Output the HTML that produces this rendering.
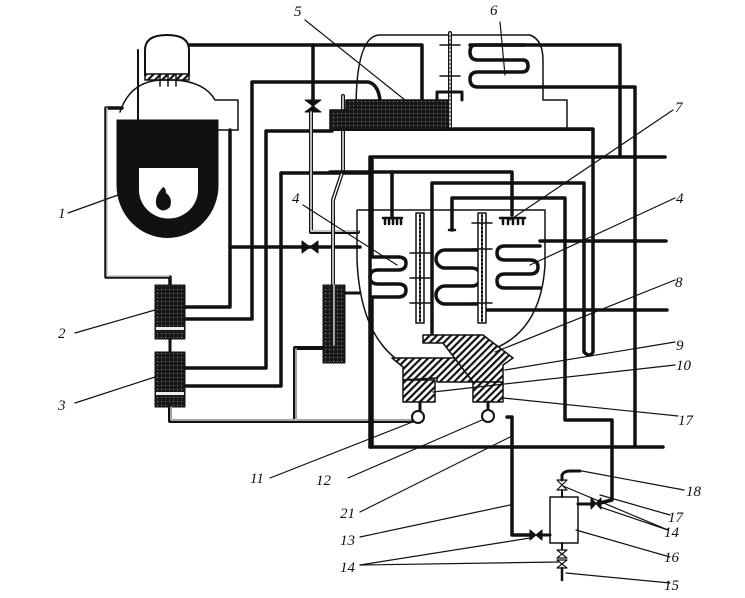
<!DOCTYPE html>
<html><head><meta charset="utf-8"><style>
html,body{margin:0;padding:0;background:#fff}
svg{display:block}
text{font-family:"Liberation Serif",serif;font-style:italic;font-size:15px;fill:#111}
</style></head><body>
<svg width="745" height="598" viewBox="0 0 745 598" xmlns="http://www.w3.org/2000/svg">
<defs>
<pattern id="h" width="5" height="5" patternUnits="userSpaceOnUse" patternTransform="rotate(45)">
<rect width="5" height="5" fill="#fff"/><rect width="2.2" height="5" fill="#111"/></pattern>
<pattern id="d" width="4" height="4" patternUnits="userSpaceOnUse">
<rect width="4" height="4" fill="#1a1a1a"/><rect x="1" y="1" width="1" height="1" fill="#888"/></pattern>
</defs>
<g fill="none" stroke="#111" stroke-linecap="round" stroke-linejoin="round">
<path d="M145,75 L145,50 Q145,35 167,35 Q189,35 189,50 L189,75" stroke-width="2"/>
<rect x="145" y="74" width="44" height="6" fill="url(#h)" stroke-width="1.5"/>
<path d="M120,112 Q130,82 160,80 L175,80 Q205,82 215,100 L238,100 L238,130 L218,130" stroke-width="1.5"/>
<path d="M117,120 L218,120 L218,185 A50,52 0 0 1 117,185 Z" fill="#111" stroke-width="1"/>
<path d="M139,168 L198,168 L198,190 A29,28 0 0 1 139,190 Z" fill="#fff" stroke="none"/>
<path d="M163,187 Q153,198 157,207 Q163,214 170,207 Q173,198 166,193 Q166,188 163,187Z" fill="#111" stroke="none"/>
<line x1="138" y1="50" x2="138" y2="168" stroke-width="2"/>
<line x1="160" y1="74" x2="160" y2="86" stroke-width="1.5"/><line x1="168" y1="74" x2="168" y2="86" stroke-width="1.5"/><line x1="176" y1="74" x2="176" y2="86" stroke-width="1.5"/>
<path d="M122,108 L106,108 L106,277 L170,277 L170,285" stroke-width="3.5"/>
<path d="M107,108 L107,276 L169,276" stroke="#fff" stroke-width="1.2"/>
<rect x="155" y="285" width="30" height="54" fill="url(#d)" stroke-width="1"/>
<rect x="156" y="327" width="28" height="3" fill="#eee" stroke="none"/>
<rect x="155" y="352" width="30" height="55" fill="url(#d)" stroke-width="1"/>
<rect x="156" y="392" width="28" height="3" fill="#eee" stroke="none"/>
<line x1="170" y1="339" x2="170" y2="352" stroke-width="3"/>
<g stroke-width="3.5">
<path d="M230,130 L230,307 L185,307"/>
<path d="M185,319 L252,319 L252,82 L368,82 Q378,84 380,100"/>
<path d="M185,368 L266,368 L266,131 L332,131"/>
<path d="M185,386 L281,386 L281,173 L370,173"/>
<path d="M230,247 L360,247"/>
<path d="M189,45 L422,45 L422,100"/>
<line x1="313" y1="45" x2="313" y2="105"/>
</g>
<path d="M305,100 L321,100 L305,112 L321,112 Z" fill="#111" stroke-width="1"/>
<path d="M302,241 L302,253 L318,241 L318,253 Z" fill="#111" stroke-width="1"/>
<path d="M311,112 L311,232 L358,232" stroke-width="4"/>
<path d="M311,112 L311,231 L358,231" stroke="#fff" stroke-width="1.4"/>
<path d="M343,96 L343,170 L333,200 L333,285" stroke-width="4"/>
<path d="M343,96 L343,170 L333,200 L333,285" stroke="#fff" stroke-width="1.4"/>
<rect x="323" y="285" width="22" height="78" fill="url(#d)" stroke-width="1"/>
<line x1="334" y1="285" x2="334" y2="345" stroke="#ccc" stroke-width="1.5"/>
<path d="M345,293 L360,293" stroke-width="3"/>
<path d="M323,348 L295,348 L295,421" stroke-width="4"/>
<path d="M170,407 L170,421 L412,421" stroke-width="4"/>
<path d="M171,407 L171,420 L411,420 M296,349 L296,420" stroke="#fff" stroke-width="1.2"/>
<path d="M330,130 L330,110 L346,110 L346,100 L448,100 L448,130 Z" fill="url(#d)" stroke-width="1.5"/>
<path d="M330,130 L592,130" stroke-width="2"/>
<path d="M356,110 Q356,35 380,35 L530,35 Q543,40 543,60 L543,100 L567,100 L567,128" stroke-width="1.5"/>
<line x1="450" y1="33" x2="450" y2="128" stroke-width="4"/>
<line x1="450" y1="33" x2="450" y2="128" stroke="#fff" stroke-width="1.5" stroke-dasharray="2,2"/>
<line x1="440" y1="45" x2="460" y2="45" stroke-width="1.5"/><line x1="440" y1="76" x2="460" y2="76" stroke-width="1.5"/>
<path d="M437,100 L437,92 L462,92 L462,100" stroke-width="3"/>
<path d="M470,45 L620,45 L620,155" stroke-width="3.5"/>
<path d="M525,45 L475,45 Q470,45 470,52 Q470,60 478,60 L523,60 Q528,60 528,66 Q528,72 522,72 L478,72 Q470,72 470,79 Q470,87 478,87 L635,87 L635,445" stroke-width="3.5"/>
<path d="M448,129 L593,129 L593,352 Q590,358 584,352 L584,183 L432,183 L432,333" stroke-width="3.5"/>
<g stroke-width="3.5">
<path d="M370,447 L370,157 L665,157"/>
<line x1="540" y1="241" x2="666" y2="241"/>
<line x1="480" y1="310" x2="667" y2="310"/>
<line x1="370" y1="447" x2="663" y2="447"/>
<path d="M330,172 L512,172 L512,215"/>
<line x1="392" y1="172" x2="392" y2="218"/>
<path d="M452,230 L452,198 L565,198 L565,420 L612,420 L612,500 L600,503"/>
<path d="M507,417 L512,417 L512,535 L530,535"/>
</g>
<path d="M357,260 L357,210 L545,210 L545,265 Q540,345 470,355 M357,260 Q360,330 395,358" stroke-width="1.5"/>
<path d="M383,218 L402,218 M385,218 v6 M389,218 v6 M393,218 v6 M397,218 v6 M401,218 v6" stroke-width="2.5"/>
<path d="M500,218 L525,218 M503,218 v6 M508,218 v6 M513,218 v6 M518,218 v6 M523,218 v6" stroke-width="2.5"/>
<path d="M449,230 L455,230" stroke-width="2.5"/>
<g stroke-width="3.5">
<path d="M372,160 L372,257 L398,257 Q406,257 406,263 Q406,270 398,270 L378,270 Q370,270 370,277 Q370,284 378,284 L398,284 Q406,284 406,290 Q406,297 398,297 L372,297 L372,447"/>
<path d="M478,250 L445,250 A9,9 0 0 0 445,268 L472,268 A9,9 0 0 1 472,286 L445,286 A9,9 0 0 0 445,304 L478,304"/>
<path d="M540,246 L505,246 Q497,246 497,253 Q497,260 505,260 L530,260 Q538,260 538,267 Q538,274 530,274 L505,274 Q497,274 497,281 Q497,288 505,288 L540,288"/>
</g>
<rect x="416" y="213" width="8" height="110" fill="#fff" stroke-width="1.5"/>
<line x1="420" y1="215" x2="420" y2="321" stroke-width="2" stroke-dasharray="2,2"/>
<rect x="478" y="213" width="8" height="110" fill="#fff" stroke-width="1.5"/>
<line x1="482" y1="215" x2="482" y2="321" stroke-width="2" stroke-dasharray="2,2"/>
<g stroke-width="1.5"><line x1="410" y1="253" x2="430" y2="253"/><line x1="410" y1="278" x2="430" y2="278"/><line x1="410" y1="303" x2="430" y2="303"/>
<line x1="472" y1="223" x2="492" y2="223"/><line x1="472" y1="249" x2="492" y2="249"/><line x1="472" y1="303" x2="492" y2="303"/></g>
<g stroke-width="1.5" fill="url(#h)">
<polygon points="392,358 460,358 473,382 437,382 437,378 403,380 403,367"/>
<polygon points="423,335 483,335 513,358 503,365 503,382 473,382 443,343 423,343"/>
<rect x="403" y="380" width="32" height="22"/>
<rect x="473" y="382" width="30" height="20"/>
</g>
<line x1="420" y1="402" x2="420" y2="411" stroke-width="3"/>
<line x1="488" y1="402" x2="488" y2="411" stroke-width="3"/>
<circle cx="418" cy="417" r="6" fill="#fff" stroke-width="2"/>
<circle cx="488" cy="416" r="6" fill="#fff" stroke-width="2"/>
<rect x="550" y="497" width="28" height="46" fill="#fff" stroke-width="1.5"/>
<path d="M530,530 L530,540 L542,530 L542,540 Z" fill="#111" stroke-width="1"/>
<line x1="542" y1="535" x2="550" y2="535" stroke-width="3"/>
<path d="M591,498 L591,509 L601,498 L601,509 Z" fill="#111" stroke-width="1"/>
<line x1="578" y1="504" x2="591" y2="504" stroke-width="3"/>
<path d="M557,480 L567,480 L557,490 L567,490 Z" fill="#fff" stroke-width="1.2"/>
<line x1="562" y1="490" x2="562" y2="497" stroke-width="2"/>
<path d="M562,480 L562,475 Q564,471 570,471 L580,471" stroke-width="3"/>
<path d="M562,543 L562,550" stroke-width="2"/>
<path d="M557,550 L567,550 L557,558 L567,558 Z" fill="#fff" stroke-width="1.2"/>
<path d="M557,560 L567,560 L557,568 L567,568 Z" fill="#fff" stroke-width="1.2"/>
<line x1="562" y1="568" x2="562" y2="580" stroke-width="2.5"/>
<g stroke-width="1.2">
<path d="M68,213 L118,195"/><path d="M75,333 L155,310"/><path d="M75,403 L155,377"/>
<path d="M303,205 L397,265"/><path d="M675,198 L530,265"/><path d="M305,20 L405,100"/>
<path d="M500,22 L505,75"/><path d="M673,110 L510,220"/><path d="M675,280 L495,352"/>
<path d="M675,342 L505,370"/><path d="M675,365 L433,392"/><path d="M678,416 L503,398"/>
<path d="M270,478 L410,423"/><path d="M348,478 L482,420"/><path d="M360,512 L510,437"/>
<path d="M360,537 L510,505"/><path d="M360,565 L530,538"/><path d="M360,565 L558,562"/>
<path d="M668,530 L563,486"/><path d="M668,530 L600,507"/><path d="M670,583 L566,573"/>
<path d="M670,557 L576,530"/><path d="M670,515 L600,495"/><path d="M684,490 L582,471"/>
</g>
</g>
<text x="58" y="218">1</text><text x="58" y="338">2</text><text x="58" y="410">3</text>
<text x="292" y="203">4</text><text x="676" y="203">4</text><text x="294" y="16">5</text>
<text x="490" y="15">6</text><text x="675" y="112">7</text><text x="675" y="287">8</text>
<text x="676" y="350">9</text><text x="676" y="370">10</text><text x="678" y="425">17</text>
<text x="250" y="483">11</text><text x="316" y="485">12</text><text x="340" y="518">21</text>
<text x="340" y="545">13</text><text x="340" y="572">14</text><text x="664" y="537">14</text>
<text x="664" y="590">15</text><text x="664" y="562">16</text><text x="668" y="522">17</text>
<text x="686" y="496">18</text>
</svg>
</body></html>
